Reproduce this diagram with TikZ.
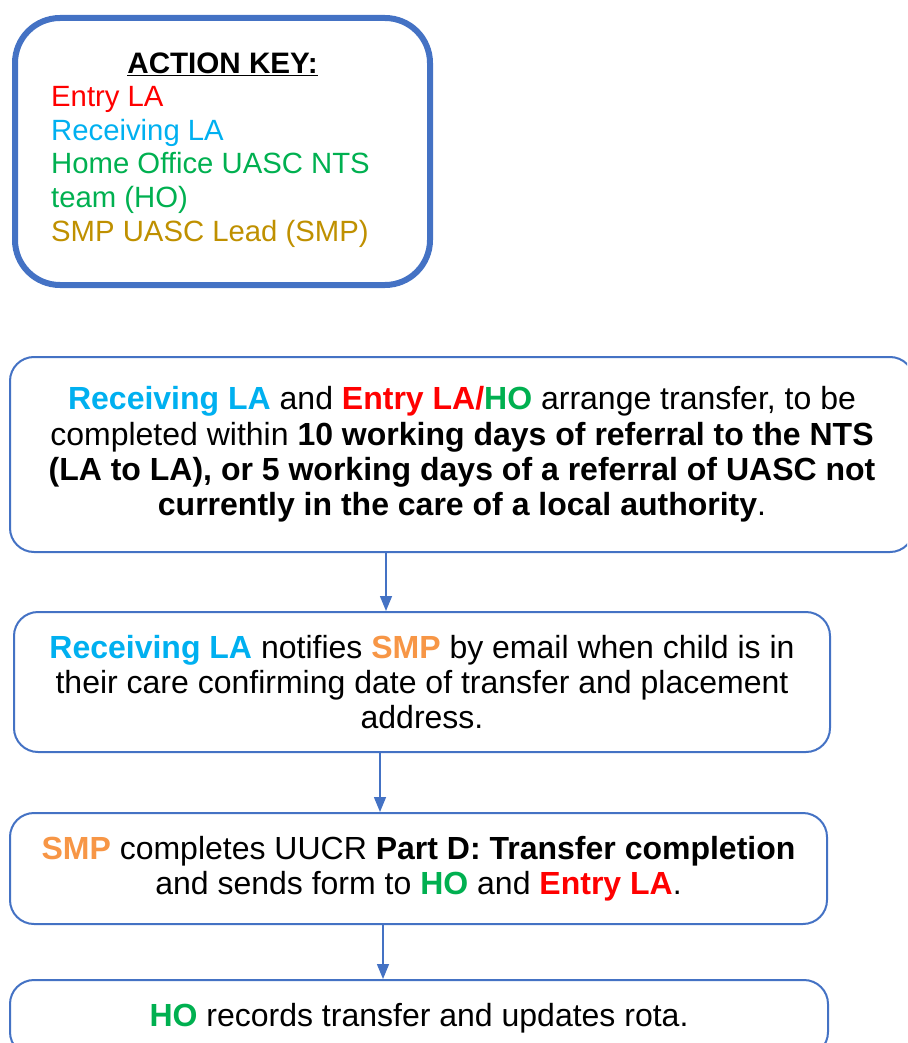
\documentclass[tikz,border=0pt]{standalone}
\usepackage{fontspec}
\setmainfont{Liberation Sans}
\usetikzlibrary{arrows.meta}
\definecolor{kblue}{HTML}{4472C4}
\definecolor{cRed}{HTML}{FF0000}
\definecolor{cCyan}{HTML}{00B0F0}
\definecolor{cGreen}{HTML}{00B050}
\definecolor{cGold}{HTML}{BF9000}
\definecolor{cOrange}{HTML}{F79646}
\newcommand{\rla}{{\color{cCyan}\bfseries Receiving LA}}
\newcommand{\ela}{{\color{cRed}\bfseries Entry LA}}
\newcommand{\hoo}{{\color{cGreen}\bfseries HO}}
\newcommand{\smpp}{{\color{cOrange}\bfseries SMP}}
\begin{document}
\begin{tikzpicture}[x=1pt,y=-1pt,
  stepbox/.style={draw=kblue, line width=2pt, rounded corners=24pt, fill=white,
    align=center, inner sep=0pt,
    font=\fontsize{32}{35.3}\selectfont},
  flow/.style={draw=kblue, line width=1.5pt, -{Triangle[width=12pt,length=15pt]}}]
\useasboundingbox (0,0) rectangle (907,1043);
\begin{scope}
\clip (0,0) rectangle (907,1043);
% key box
\node[draw=kblue, line width=6pt, rounded corners=45pt, minimum width=415pt, minimum height=267pt, inner sep=0pt] (key) at (222.5,151.5) {};
\node[font=\fontsize{29.6}{33.5}\selectfont\bfseries] (keytitle) at (222.5,64) {\underline{ACTION KEY:}};
\node[anchor=north west, align=left, inner sep=0pt, font=\fontsize{29.3}{33.7}\selectfont] (keylist) at (51,86)
 {{\color{cRed}Entry LA}\\
  {\color{cCyan}Receiving LA}\\
  {\color{cGreen}Home Office UASC NTS}\\
  {\color{cGreen}team (HO)}\\
  {\color{cGold}SMP UASC Lead (SMP)}};
% flow boxes
\node[stepbox, minimum width=904pt, minimum height=195pt] (b1) at (462,454.5)
 {\rla{} and {\color{cRed}\bfseries Entry LA/}\hoo{} arrange transfer, to be\\
  completed within \textbf{10 working days of referral to the NTS}\\
  \textbf{(LA to LA), or 5 working days of a referral of UASC not}\\
  \textbf{currently in the care of a local authority}.};
\node[stepbox, minimum width=816pt, minimum height=140pt] (b2) at (422,682)
 {\rla{} notifies \smpp{} by email when child is in\\
  their care confirming date of transfer and placement\\
  address.};
\node[stepbox, minimum width=817pt, minimum height=111pt] (b3) at (418.5,868.5)
 {\smpp{} completes UUCR \textbf{Part D: Transfer completion}\\
  and sends form to \hoo{} and \ela.};
\node[stepbox, minimum width=818pt, minimum height=76pt] (b4) at (419,1018)
 {\hoo{} records transfer and updates rota.};
% connectors
\coordinate (a1) at (386,0);
\coordinate (a2) at (380,0);
\coordinate (a3) at (383,0);
\draw[flow] (b1.south -| a1) -- (b2.north -| a1);
\draw[flow] (b2.south -| a2) -- (b3.north -| a2);
\draw[flow] (b3.south -| a3) -- (b4.north -| a3);
\end{scope}
\end{tikzpicture}
\end{document}
